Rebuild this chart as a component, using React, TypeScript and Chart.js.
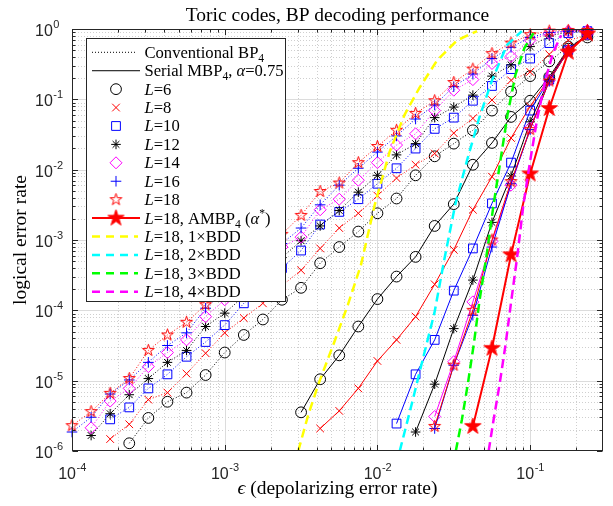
import React, { useEffect, useRef } from 'react';
import { Chart, registerables } from 'chart.js';
import { drawPoint } from 'chart.js/helpers';

Chart.register(...registerables);

// depolarizing error rate grid used by the simulations
const EPS = [
  1.0e-4, 1.334e-4, 1.778e-4, 2.371e-4, 3.162e-4, 4.217e-4, 5.623e-4, 7.499e-4,
  1.0e-3, 1.334e-3, 1.778e-3, 2.371e-3, 3.162e-3, 4.217e-3, 5.623e-3, 7.499e-3,
  1.0e-2, 1.334e-2, 1.778e-2, 2.371e-2, 3.162e-2, 4.217e-2, 5.623e-2, 7.499e-2,
  0.1, 0.1334, 0.1778, 0.2371,
];

// log10(logical error rate), conventional BP4 (aligned with EPS, null = no point)
const BP_L6 = [null, null, null, -5.89, -5.53, -5.30, -5.17, -4.92, -4.60, -4.35, -4.13, -3.85, -3.68, -3.33, -3.10, -2.88, -2.62, -2.41, -2.08, -1.81, -1.63, -1.44, -1.16, -0.89, -0.67, -0.46, -0.25, -0.12];
const BP_L8 = [null, null, -5.83, -5.62, -5.27, -5.17, -4.90, -4.61, -4.32, -4.11, -3.90, -3.65, -3.43, -3.12, -2.83, -2.62, -2.37, -2.12, -1.93, -1.77, -1.48, -1.27, -1.01, -0.73, -0.61, -0.36, -0.16, -0.09];
const BP_L10 = [null, null, -5.55, -5.38, -5.11, -4.91, -4.66, -4.45, -4.21, -3.90, -3.68, -3.40, -3.15, -2.78, -2.60, -2.42, -2.20, -1.98, -1.70, -1.42, -1.26, -1.02, -0.81, -0.57, -0.42, -0.20, -0.06, -0.03];
const BP_L12 = [null, -5.78, -5.47, -5.20, -4.97, -4.74, -4.57, -4.23, -4.04, -3.80, -3.55, -3.25, -3.01, -2.80, -2.58, -2.32, -2.08, -1.79, -1.63, -1.26, -1.11, -0.94, -0.67, -0.51, -0.25, -0.10, -0.04, -0.02];
const BP_L14 = [null, -5.67, -5.29, -5.11, -4.80, -4.60, -4.42, -4.09, -3.85, -3.60, -3.35, -3.10, -2.96, -2.57, -2.42, -2.15, -1.90, -1.65, -1.49, -1.16, -0.87, -0.72, -0.49, -0.39, -0.16, -0.06, -0.03, -0.02];
const BP_L16 = [-5.73, -5.52, -5.19, -4.99, -4.74, -4.50, -4.32, -3.97, -3.72, -3.48, -3.25, -3.05, -2.83, -2.50, -2.22, -1.98, -1.75, -1.52, -1.28, -1.08, -0.82, -0.64, -0.42, -0.26, -0.12, -0.05, -0.03, -0.02];
const BP_L18 = [-5.64, -5.44, -5.18, -4.97, -4.57, -4.35, -4.17, -3.92, -3.67, -3.42, -3.17, -2.92, -2.65, -2.31, -2.19, -1.90, -1.67, -1.44, -1.20, -1.02, -0.76, -0.57, -0.35, -0.20, -0.08, -0.03, -0.02, -0.02];

// log10(logical error rate), serial MBP4 alpha=0.75; first point at EPS[start]
const MBP_L6_START = 12;
const MBP_L6 = [-5.45, -4.98, -4.64, -4.23, -3.84, -3.52, -3.24, -2.80, -2.49, -1.93, -1.62, -1.25, -1.02, -0.68, -0.28, -0.08];
const MBP_L8_START = 13;
const MBP_L8 = [-5.68, -5.43, -5.11, -4.72, -4.42, -4.09, -3.63, -3.14, -2.57, -2.10, -1.55, -1.10, -0.70, -0.29, -0.08];
const MBP_L10_START = 17;
const MBP_L10 = [-5.61, -4.91, -4.42, -3.72, -3.12, -2.48, -1.90, -1.16, -0.72, -0.30, -0.08];
const MBP_L12_START = 18;
const MBP_L12 = [-5.73, -5.05, -4.26, -3.57, -2.75, -2.09, -1.32, -0.72, -0.30, -0.07];
const MBP_L14_START = 19;
const MBP_L14 = [-5.51, -4.73, -3.88, -3.02, -2.22, -1.41, -0.73, -0.31, -0.07];
const MBP_L16_START = 19;
const MBP_L16 = [-5.68, -4.78, -4.07, -3.10, -2.20, -1.43, -0.74, -0.31, -0.07];
const MBP_L18_START = 19;
const MBP_L18 = [-5.65, -4.78, -4.00, -3.00, -2.17, -1.43, -0.74, -0.31, -0.07];

// log10(logical error rate), L=18 AMBP4 (alpha*)
const AMBP_L18_START = 21;
const AMBP_L18 = [-5.65, -4.54, -3.21, -2.06, -1.13, -0.33, -0.07];

// L=18, m x BDD curves: (epsilon, log10 error rate)
const BDD1_EPS = [3.03e-3, 3.52e-3, 4.09e-3, 5.2e-3, 6.41e-3, 7.79e-3, 9.6e-3, 1.2e-2, 1.505e-2, 1.88e-2, 2.47e-2, 3.33e-2, 4.49e-2];
const BDD1_LOG = [-6.0, -5.49, -5.06, -4.46, -3.92, -3.36, -2.5, -1.75, -1.22, -0.84, -0.44, -0.16, -0.03];
const BDD2_EPS = [1.4e-2, 1.67e-2, 2.0e-2, 2.36e-2, 2.74e-2, 3.23e-2, 3.87e-2, 4.63e-2, 5.63e-2, 7.04e-2, 8.82e-2];
const BDD2_LOG = [-6.0, -5.35, -4.66, -4.04, -3.28, -2.5, -1.86, -1.27, -0.73, -0.23, -0.03];
const BDD3_EPS = [3.26e-2, 3.57e-2, 3.9e-2, 4.27e-2, 4.67e-2, 5.19e-2, 5.76e-2, 6.4e-2, 7.11e-2, 8.01e-2, 9.17e-2, 0.105];
const BDD3_LOG = [-6.0, -5.56, -5.06, -4.49, -3.85, -3.21, -2.5, -1.86, -1.22, -0.65, -0.27, -0.06];
const BDD4_EPS = [5.35e-2, 5.76e-2, 6.3e-2, 6.9e-2, 7.54e-2, 8.26e-2, 9.03e-2, 0.1003, 0.1114, 0.1256, 0.1416, 0.1596];
const BDD4_LOG = [-6.0, -5.56, -5.06, -4.49, -3.85, -3.21, -2.5, -1.86, -1.27, -0.73, -0.33, -0.09];

// axis ticks
const X_MIN = 1e-4;
const X_MAX = 0.3;
const Y_MIN = 1e-6;
const Y_MAX = 1;
const X_TICKS = [1e-4, 1e-3, 1e-2, 1e-1];
const X_TICK_EXP = ['-4', '-3', '-2', '-1'];
const Y_TICKS = [1, 1e-1, 1e-2, 1e-3, 1e-4, 1e-5, 1e-6];
const Y_TICK_EXP = ['0', '-1', '-2', '-3', '-4', '-5', '-6'];
const L_VALUES = ['6', '8', '10', '12', '14', '16', '18'];

const TITLE = 'Toric codes, BP decoding performance';
const X_LABEL = ' (depolarizing error rate)';
const Y_LABEL = 'logical error rate';

const SERIF = '"Liberation Serif", "DejaVu Serif", serif';
const SANS = '"Liberation Sans", Arial, sans-serif';
const AX = '#262626';
const RED = '#ff0000';
const BLUE = '#0000ff';
const BLACK = '#000000';
const MAG = '#ff00ff';

type Seg = [string, 'n' | 'i' | 'sub' | 'sup'];

function makePentagram(R: number, stroke: string, fill: string | null, lw: number) {
  const size = Math.ceil(2 * R + 2 * lw + 2);
  const c = document.createElement('canvas');
  c.width = size;
  c.height = size;
  const g = c.getContext('2d')!;
  const cx = size / 2;
  const cy = size / 2;
  g.beginPath();
  for (let i = 0; i < 10; i++) {
    const r = i % 2 === 0 ? R : R * 0.382;
    const a = -Math.PI / 2 + (i * Math.PI) / 5;
    const px = cx + r * Math.cos(a);
    const py = cy + r * Math.sin(a);
    if (i === 0) g.moveTo(px, py);
    else g.lineTo(px, py);
  }
  g.closePath();
  if (fill) {
    g.fillStyle = fill;
    g.fill();
  }
  g.strokeStyle = stroke;
  g.lineWidth = lw;
  g.stroke();
  return c;
}

function pts(logs: (number | null)[], start: number, xs: number[] = EPS) {
  const out: { x: number; y: number }[] = [];
  logs.forEach((v, i) => {
    if (v !== null) out.push({ x: xs[i + start], y: Math.pow(10, v) });
  });
  return out;
}

function richWidth(ctx: CanvasRenderingContext2D, segs: Seg[], size: number) {
  let w = 0;
  for (const [t, m] of segs) {
    const small = m === 'sub' || m === 'sup';
    ctx.font = `${m === 'i' ? 'italic ' : ''}${small ? size * 0.7 : size}px ${SERIF}`;
    w += ctx.measureText(t).width;
  }
  return w;
}

function rich(ctx: CanvasRenderingContext2D, x: number, y: number, segs: Seg[], size: number) {
  let cx = x;
  for (const [t, m] of segs) {
    let fs = size;
    let dy = 0;
    if (m === 'sub') {
      fs = size * 0.7;
      dy = size * 0.25;
    } else if (m === 'sup') {
      fs = size * 0.7;
      dy = -size * 0.38;
    }
    ctx.font = `${m === 'i' ? 'italic ' : ''}${fs}px ${SERIF}`;
    ctx.fillText(t, cx, y + dy);
    cx += ctx.measureText(t).width;
  }
}

export default function App() {
  const ref = useRef<HTMLCanvasElement>(null);

  useEffect(() => {
    const canvas = ref.current!;
    const starOpen = makePentagram(6.2, RED, null, 1);
    const starFilled = makePentagram(8.5, RED, RED, 1);

    const markers: Record<string, { color: string; style: any; radius: number }> = {
      '6': { color: BLACK, style: 'circle', radius: 5.4 },
      '8': { color: RED, style: 'crossRot', radius: 5.4 },
      '10': { color: BLUE, style: 'rect', radius: 6.2 },
      '12': { color: BLACK, style: 'star', radius: 4.8 },
      '14': { color: MAG, style: 'rectRot', radius: 6 },
      '16': { color: BLUE, style: 'cross', radius: 5.3 },
      '18': { color: RED, style: starOpen, radius: 6 },
    };

    const markerSet = (L: string, data: any[], dotted: boolean) => ({
      data,
      borderColor: markers[L].color,
      borderWidth: 1,
      borderDash: dotted ? [1, 2] : [],
      pointStyle: markers[L].style,
      pointRadius: markers[L].radius,
      pointBorderColor: markers[L].color,
      pointBackgroundColor: 'rgba(0,0,0,0)',
      pointBorderWidth: 1,
      fill: false,
      tension: 0,
      clip: false as any,
    });

    const bddSet = (xs: number[], logs: number[], color: string) => ({
      data: pts(logs, 0, xs),
      borderColor: color,
      borderWidth: 2.5,
      borderDash: [9, 5],
      pointRadius: 0,
      fill: false,
      tension: 0,
    });

    // first dataset is painted on top in Chart.js
    const datasets: any[] = [
      bddSet(BDD4_EPS, BDD4_LOG, MAG),
      bddSet(BDD3_EPS, BDD3_LOG, '#00ff00'),
      bddSet(BDD2_EPS, BDD2_LOG, '#00ffff'),
      bddSet(BDD1_EPS, BDD1_LOG, '#ffff00'),
      {
        data: pts(AMBP_L18, AMBP_L18_START),
        borderColor: RED,
        borderWidth: 2,
        pointStyle: starFilled,
        pointRadius: 8,
        fill: false,
        tension: 0,
        clip: false,
      },
      markerSet('18', pts(MBP_L18, MBP_L18_START), false),
      markerSet('16', pts(MBP_L16, MBP_L16_START), false),
      markerSet('14', pts(MBP_L14, MBP_L14_START), false),
      markerSet('12', pts(MBP_L12, MBP_L12_START), false),
      markerSet('10', pts(MBP_L10, MBP_L10_START), false),
      markerSet('8', pts(MBP_L8, MBP_L8_START), false),
      markerSet('6', pts(MBP_L6, MBP_L6_START), false),
      markerSet('18', pts(BP_L18, 0), true),
      markerSet('16', pts(BP_L16, 0), true),
      markerSet('14', pts(BP_L14, 0), true),
      markerSet('12', pts(BP_L12, 0), true),
      markerSet('10', pts(BP_L10, 0), true),
      markerSet('8', pts(BP_L8, 0), true),
      markerSet('6', pts(BP_L6, 0), true),
    ];

    const legendRows: { draw: (ctx: CanvasRenderingContext2D, y: number) => void; text: Seg[] }[] = [];
    const lineSample = (ctx: CanvasRenderingContext2D, y: number, color: string, w: number, dash: number[], x2: number) => {
      ctx.save();
      ctx.strokeStyle = color;
      ctx.lineWidth = w;
      ctx.setLineDash(dash);
      ctx.beginPath();
      ctx.moveTo(92, y);
      ctx.lineTo(x2, y);
      ctx.stroke();
      ctx.restore();
    };
    const markSample = (ctx: CanvasRenderingContext2D, y: number, m: { color: string; style: any; radius: number }, w = 1) => {
      ctx.save();
      ctx.strokeStyle = m.color;
      ctx.fillStyle = 'rgba(0,0,0,0)';
      ctx.lineWidth = w;
      drawPoint(ctx, { pointStyle: m.style, radius: m.radius, rotation: 0, borderWidth: w } as any, 116, y);
      ctx.restore();
    };
    legendRows.push({
      draw: (ctx, y) => lineSample(ctx, y, BLACK, 1, [1, 2], 135),
      text: [['Conventional BP', 'n'], ['4', 'sub']],
    });
    legendRows.push({
      draw: (ctx, y) => lineSample(ctx, y, BLACK, 1, [], 140),
      text: [['Serial MBP', 'n'], ['4', 'sub'], [', ', 'n'], ['α', 'i'], ['=0.75', 'n']],
    });
    L_VALUES.forEach((L) => {
      legendRows.push({
        draw: (ctx, y) => markSample(ctx, y, markers[L]),
        text: [['L', 'i'], ['=' + L, 'n']],
      });
    });
    legendRows.push({
      draw: (ctx, y) => {
        lineSample(ctx, y, RED, 2, [], 140);
        ctx.drawImage(starFilled, 116 - starFilled.width / 2, y - starFilled.height / 2);
      },
      text: [['L', 'i'], ['=18, AMBP', 'n'], ['4', 'sub'], [' (', 'n'], ['α', 'i'], ['*', 'sup'], [')', 'n']],
    });
    [['1', '#ffff00'], ['2', '#00ffff'], ['3', '#00ff00'], ['4', MAG]].forEach(([m, c]) => {
      legendRows.push({
        draw: (ctx, y) => lineSample(ctx, y, c, 2.5, [8, 6], 138),
        text: [['L', 'i'], ['=18, ' + m + '×BDD', 'n']],
      });
    });

    const decor = {
      id: 'decor',
      beforeDatasetsDraw(chart: any) {
        const ctx: CanvasRenderingContext2D = chart.ctx;
        const xs = chart.scales.x;
        const ys = chart.scales.y;
        const a = chart.chartArea;
        ctx.save();
        ctx.fillStyle = '#ffffff';
        ctx.fillRect(a.left, a.top, a.right - a.left, a.bottom - a.top);
        ctx.lineWidth = 1;
        // minor grid
        ctx.strokeStyle = '#cfcfcf';
        ctx.setLineDash([1, 2]);
        for (let d = -4; d <= -1; d++) {
          for (let m = 2; m <= 9; m++) {
            const v = m * Math.pow(10, d);
            if (v >= X_MAX) continue;
            const px = Math.round(xs.getPixelForValue(v)) + 0.5;
            ctx.beginPath();
            ctx.moveTo(px, a.top);
            ctx.lineTo(px, a.bottom);
            ctx.stroke();
          }
        }
        for (let d = -6; d <= -1; d++) {
          for (let m = 2; m <= 9; m++) {
            const v = m * Math.pow(10, d);
            const py = Math.round(ys.getPixelForValue(v)) + 0.5;
            ctx.beginPath();
            ctx.moveTo(a.left, py);
            ctx.lineTo(a.right, py);
            ctx.stroke();
          }
        }
        // major grid
        ctx.setLineDash([]);
        ctx.strokeStyle = '#dcdcdc';
        X_TICKS.slice(1).forEach((v) => {
          const px = Math.round(xs.getPixelForValue(v)) + 0.5;
          ctx.beginPath();
          ctx.moveTo(px, a.top);
          ctx.lineTo(px, a.bottom);
          ctx.stroke();
        });
        Y_TICKS.slice(1, -1).forEach((v) => {
          const py = Math.round(ys.getPixelForValue(v)) + 0.5;
          ctx.beginPath();
          ctx.moveTo(a.left, py);
          ctx.lineTo(a.right, py);
          ctx.stroke();
        });
        ctx.restore();
      },
      afterDatasetsDraw(chart: any) {
        const ctx: CanvasRenderingContext2D = chart.ctx;
        const xs = chart.scales.x;
        const ys = chart.scales.y;
        const a = chart.chartArea;
        const L = Math.round(a.left) + 0.5;
        const R = Math.round(a.right) - 0.5;
        const T = Math.round(a.top) + 0.5;
        const B = Math.round(a.bottom) - 0.5;
        ctx.save();
        ctx.strokeStyle = AX;
        ctx.lineWidth = 1;
        ctx.setLineDash([]);
        ctx.strokeRect(L, T, R - L, B - T);
        // ticks
        const tick = (px: number, len: number) => {
          ctx.beginPath();
          ctx.moveTo(px, B);
          ctx.lineTo(px, B - len);
          ctx.moveTo(px, T);
          ctx.lineTo(px, T + len);
          ctx.stroke();
        };
        const ytick = (py: number, len: number) => {
          ctx.beginPath();
          ctx.moveTo(L, py);
          ctx.lineTo(L + len, py);
          ctx.moveTo(R, py);
          ctx.lineTo(R - len, py);
          ctx.stroke();
        };
        X_TICKS.forEach((v) => tick(Math.round(xs.getPixelForValue(v)) + 0.5, 5.5));
        for (let d = -4; d <= -1; d++) {
          for (let m = 2; m <= 9; m++) {
            const v = m * Math.pow(10, d);
            if (v >= X_MAX) continue;
            tick(Math.round(xs.getPixelForValue(v)) + 0.5, 3);
          }
        }
        Y_TICKS.forEach((v) => ytick(Math.round(ys.getPixelForValue(v)) + 0.5, 5.5));
        for (let d = -6; d <= -1; d++) {
          for (let m = 2; m <= 9; m++) ytick(Math.round(ys.getPixelForValue(m * Math.pow(10, d))) + 0.5, 3);
        }
        // tick labels
        ctx.fillStyle = AX;
        ctx.textBaseline = 'alphabetic';
        ctx.textAlign = 'left';
        X_TICKS.forEach((v, i) => {
          const px = xs.getPixelForValue(v);
          ctx.font = `16px ${SANS}`;
          const w1 = ctx.measureText('10').width;
          ctx.font = `11px ${SANS}`;
          const w2 = ctx.measureText(X_TICK_EXP[i]).width;
          const x0 = px - (w1 + w2) / 2;
          ctx.font = `16px ${SANS}`;
          ctx.fillText('10', x0, 479);
          ctx.font = `11px ${SANS}`;
          ctx.fillText(X_TICK_EXP[i], x0 + w1 + 0.5, 471);
        });
        Y_TICKS.forEach((v, i) => {
          const py = ys.getPixelForValue(v);
          ctx.font = `16px ${SANS}`;
          const w1 = ctx.measureText('10').width;
          ctx.fillText('10', 35, py + 7);
          ctx.font = `11px ${SANS}`;
          ctx.fillText(Y_TICK_EXP[i], 35 + w1 + 0.5, py - 1);
        });
        // title and axis labels
        ctx.fillStyle = '#000000';
        ctx.font = `19.5px ${SERIF}`;
        ctx.textAlign = 'center';
        ctx.fillText(TITLE, (a.left + a.right) / 2, 21);
        ctx.textAlign = 'left';
        const xl: Seg[] = [['ϵ', 'i'], [X_LABEL, 'n']];
        const xw = richWidth(ctx, xl, 19.5);
        rich(ctx, (a.left + a.right) / 2 - xw / 2, 494, xl, 19.5);
        ctx.save();
        ctx.translate(26, (a.top + a.bottom) / 2);
        ctx.rotate(-Math.PI / 2);
        ctx.font = `19.5px ${SERIF}`;
        ctx.textAlign = 'center';
        ctx.fillText(Y_LABEL, 0, 0);
        ctx.restore();
        // legend
        ctx.fillStyle = '#ffffff';
        ctx.fillRect(86.5, 38.5, 199, 263);
        ctx.strokeStyle = AX;
        ctx.lineWidth = 1;
        ctx.strokeRect(86.5, 38.5, 199, 263);
        legendRows.forEach((row, i) => {
          const y = 52.3 + 18.42 * i;
          row.draw(ctx, y);
          ctx.fillStyle = '#000000';
          ctx.textAlign = 'left';
          rich(ctx, 144.5, y + 5.5, row.text, 16.6);
        });
        ctx.restore();
      },
    };

    const chart = new Chart(canvas, {
      type: 'line',
      data: { datasets },
      options: {
        animation: false,
        responsive: false,
        devicePixelRatio: 1,
        layout: { padding: { left: 72, top: 29, right: 613 - 606, bottom: 506 - 451 } },
        scales: {
          x: { type: 'logarithmic', min: X_MIN, max: X_MAX, display: false },
          y: { type: 'logarithmic', min: Y_MIN, max: Y_MAX, display: false },
        },
        plugins: { legend: { display: false }, tooltip: { enabled: false }, title: { display: false } },
      },
      plugins: [decor],
    } as any);
    return () => chart.destroy();
  }, []);

  return (
    <div style={{ position: 'absolute', left: 0, top: 0, width: 613, height: 506, background: '#ffffff' }}>
      <canvas ref={ref} width={613} height={506} style={{ display: 'block' }} />
    </div>
  );
}
